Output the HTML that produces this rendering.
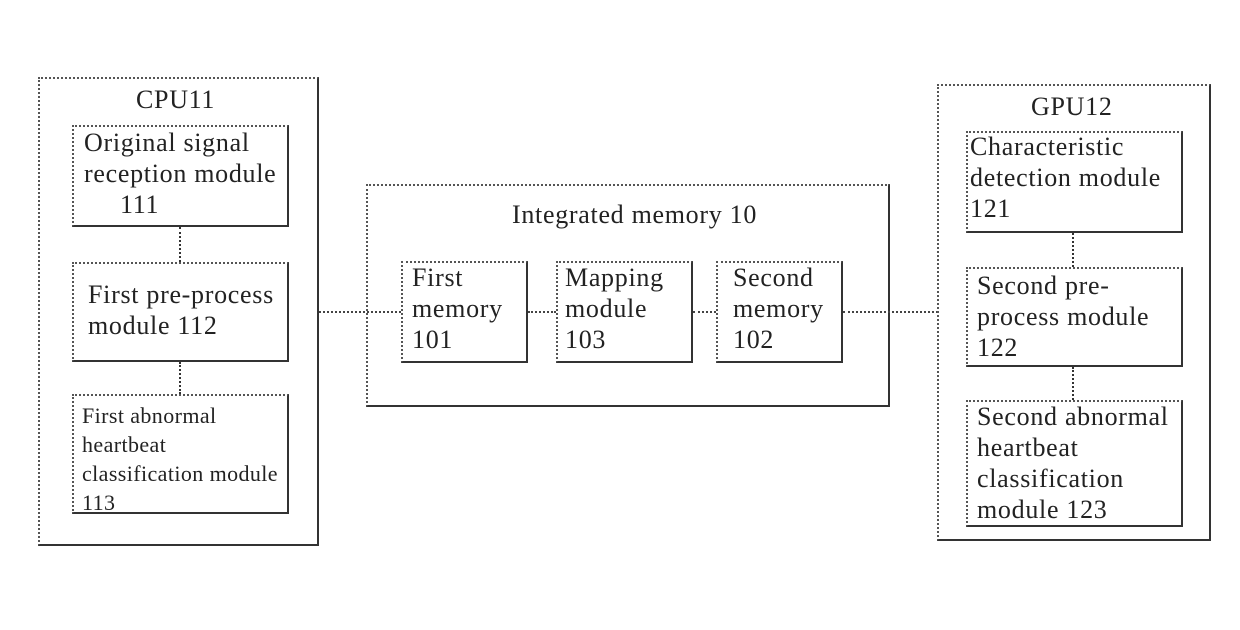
<!DOCTYPE html>
<html><head><style>
body{margin:0;width:1240px;height:630px;background:#fff;position:relative;overflow:hidden;font-family:"Liberation Serif",serif;color:#222}
.b{position:absolute;box-sizing:border-box;border:2px dotted #555;border-right:2px solid #333;border-bottom:2px solid #333}
.t{position:absolute;font-size:26px;letter-spacing:0.7px;line-height:31px;white-space:nowrap}
.s{font-size:22px;letter-spacing:0.4px;line-height:29px}
.h{position:absolute;border-top:2px dotted #444;height:0}
.v{position:absolute;border-left:2px dotted #333;width:0}
</style></head><body>
<div class="b" style="left:38px;top:77px;width:281px;height:469px"></div>
<div class="t" style="left:136px;top:84px">CPU11</div>
<div class="b" style="left:72px;top:125px;width:217px;height:102px"></div>
<div class="t" style="left:84px;top:127px">Original signal<br>reception module<br>&nbsp;&nbsp;&nbsp;&nbsp;&nbsp;111</div>
<div class="v" style="left:179px;top:227px;height:35px"></div>
<div class="b" style="left:72px;top:262px;width:217px;height:100px"></div>
<div class="t" style="left:88px;top:279px">First pre-process<br>module 112</div>
<div class="v" style="left:179px;top:362px;height:32px"></div>
<div class="b" style="left:72px;top:394px;width:217px;height:120px"></div>
<div class="t s" style="left:82px;top:401px">First abnormal<br>heartbeat<br>classification module<br>113</div>

<div class="h" style="left:319px;top:311px;width:82px"></div>
<div class="b" style="left:366px;top:184px;width:524px;height:223px"></div>
<div class="t" style="left:512px;top:199px">Integrated memory 10</div>
<div class="b" style="left:401px;top:261px;width:127px;height:102px"></div>
<div class="t" style="left:412px;top:262px">First<br>memory<br>101</div>
<div class="h" style="left:528px;top:311px;width:28px"></div>
<div class="b" style="left:556px;top:261px;width:137px;height:102px"></div>
<div class="t" style="left:565px;top:262px">Mapping<br>module<br>103</div>
<div class="h" style="left:693px;top:311px;width:23px"></div>
<div class="b" style="left:716px;top:261px;width:127px;height:102px"></div>
<div class="t" style="left:733px;top:262px">Second<br>memory<br>102</div>
<div class="h" style="left:843px;top:311px;width:95px"></div>

<div class="b" style="left:937px;top:84px;width:274px;height:457px"></div>
<div class="t" style="left:1031px;top:91px">GPU12</div>
<div class="b" style="left:966px;top:131px;width:217px;height:102px"></div>
<div class="t" style="left:970px;top:131px">Characteristic<br>detection module<br>121</div>
<div class="v" style="left:1072px;top:233px;height:34px"></div>
<div class="b" style="left:966px;top:267px;width:217px;height:100px"></div>
<div class="t" style="left:977px;top:270px">Second pre-<br>process module<br>122</div>
<div class="v" style="left:1072px;top:367px;height:33px"></div>
<div class="b" style="left:966px;top:400px;width:217px;height:127px"></div>
<div class="t" style="left:977px;top:401px">Second abnormal<br>heartbeat<br>classification<br>module 123</div>
</body></html>
